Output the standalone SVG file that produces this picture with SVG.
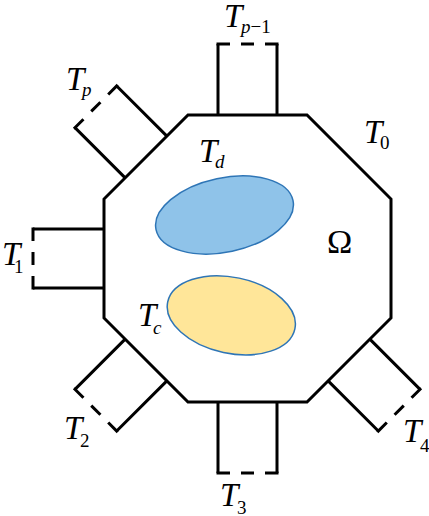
<svg xmlns="http://www.w3.org/2000/svg" width="429" height="516" viewBox="0 0 429 516">
<style>
.edge{fill:none;stroke:#000;stroke-width:3;stroke-linejoin:miter}
.side{fill:none;stroke:#000;stroke-width:3}
.dash{fill:none;stroke:#000;stroke-width:3;stroke-dasharray:13.5 11 13 11 13.5}
text{font-family:"Liberation Serif","Times New Roman",serif}
.T{font-size:33px;font-style:italic}
.s{font-size:19px;font-style:normal}
.si{font-size:19px;font-style:italic}
.reg{stroke:#2E75B6;stroke-width:1.5}
</style>
<defs>
<g id="port"><path class="side" d="M218,115V44M277,44V115"/><path class="dash" d="M216.5,44H278.5"/></g>
</defs>
<rect width="429" height="516" fill="#fff"/>
<g id="domain">
<polygon class="edge" points="188,115 307,115 391,199 391,318 307,402 188,402 104,318 104,199"/>
</g>
<g id="ports">
<g id="port-p1"><use href="#port"/></g>
<g id="port-p"><use href="#port" transform="rotate(-45 247.5 258.5)"/></g>
<g id="port-1"><use href="#port" transform="rotate(-90 247.5 258.5)"/></g>
<g id="port-2"><use href="#port" transform="rotate(-135 247.5 258.5)"/></g>
<g id="port-3"><use href="#port" transform="rotate(180 247.5 258.5)"/></g>
<g id="port-4"><use href="#port" transform="rotate(135 247.5 258.5)"/></g>
</g>
<g id="region-d"><ellipse class="reg" cx="224.5" cy="215" rx="70" ry="37" fill="#8FC3E9" transform="rotate(-12 224.5 215)"/></g>
<g id="region-c"><ellipse class="reg" cx="231.3" cy="315.3" rx="65" ry="38" fill="#FFE699" transform="rotate(12 231.3 315.3)"/></g>
<g id="labels" fill="#000">
<text x="224" y="27"><tspan class="T">T</tspan><tspan class="si" x="241" y="33">p</tspan><tspan class="s">−1</tspan></text>
<text x="66" y="90"><tspan class="T">T</tspan><tspan class="si" x="82" y="96">p</tspan></text>
<text x="199" y="162"><tspan class="T">T</tspan><tspan class="si" x="215" y="168">d</tspan></text>
<text x="364" y="143"><tspan class="T">T</tspan><tspan class="s" x="380" y="149">0</tspan></text>
<text x="327" y="253" font-size="34">Ω</text>
<text x="2" y="265"><tspan class="T">T</tspan><tspan class="s" x="14" y="273">1</tspan></text>
<text x="138" y="326"><tspan class="T">T</tspan><tspan class="si" x="153" y="334">c</tspan></text>
<text x="64" y="439"><tspan class="T">T</tspan><tspan class="s" x="80" y="447">2</tspan></text>
<text x="220" y="506"><tspan class="T">T</tspan><tspan class="s" x="237" y="514">3</tspan></text>
<text x="403" y="442"><tspan class="T">T</tspan><tspan class="s" x="420" y="452">4</tspan></text>
</g>
</svg>
